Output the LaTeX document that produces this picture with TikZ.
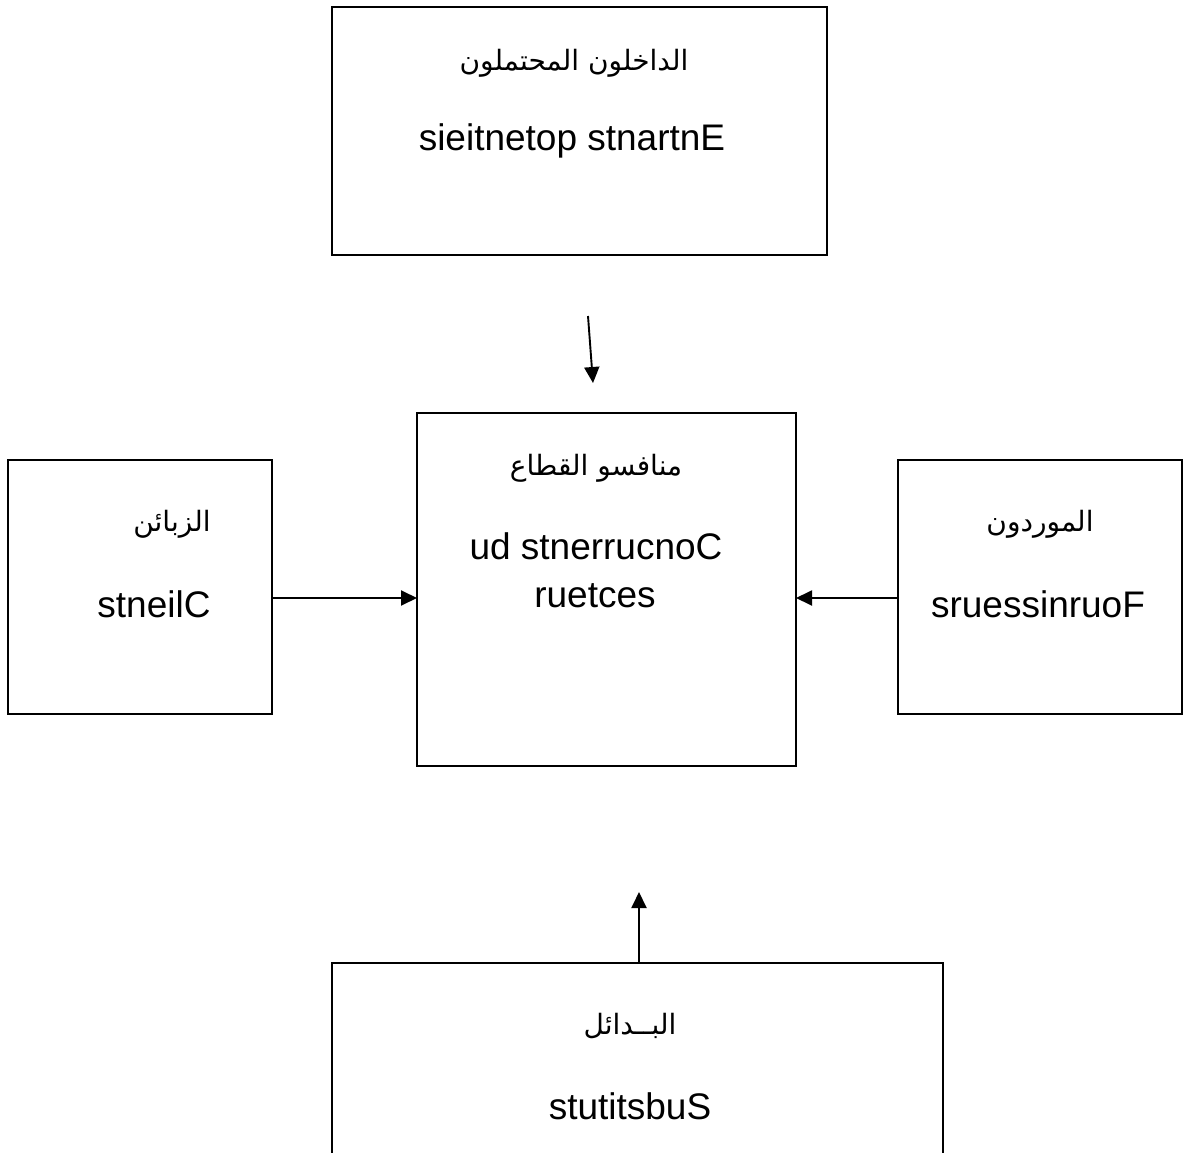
\documentclass[tikz,border=0pt]{standalone}
\usepackage{fontspec}
\setmainfont{Liberation Sans}
\newfontfamily\arabicfont[Script=Arabic]{DejaVu Sans}
\TeXXeTstate=1
\usetikzlibrary{arrows.meta}
\begin{document}
\begin{tikzpicture}[x=1pt,y=-1pt,
  box/.style={draw, line width=1.9pt, inner sep=0pt, outer sep=0pt},
  arr/.style={line width=1.9pt, -{Triangle[length=16pt,width=15pt]}},
  lat/.style={anchor=base, inner sep=0pt, font=\fontsize{37}{44}\selectfont},
  ara/.style={anchor=base, inner sep=0pt, font=\arabicfont\fontsize{28}{33}\selectfont}]
\clip (0,0) rectangle (1189,1153);
\useasboundingbox (0,0) rectangle (1189,1153);
\fill[white] (0,0) rectangle (1189,1153);

% the five forces boxes
\node[box, minimum width=495pt, minimum height=248pt] (entrants) at (579.5,131) {};
\node[box, minimum width=379pt, minimum height=353pt] (rivals) at (606.5,589.5) {};
\node[box, minimum width=264pt, minimum height=254pt] (clients) at (140,587) {};
\node[box, minimum width=284pt, minimum height=254pt] (suppliers) at (1040,587) {};
\node[box, minimum width=611pt, minimum height=260pt] (substitutes) at (637.5,1093) {};

% labels
\node[ara] (tEntrantsAr) at (574,71) {\beginR الداخلون المحتملون\endR};
\node[lat] (tEntrants) at (572,150) {sieitnetop stnartnE};
\node[ara] (tRivalsAr) at (596,475) {\beginR منافسو القطاع\endR};
\node[lat] (tRivals1) at (596,559) {ud stnerrucnoC};
\node[lat] (tRivals2) at (595,607) {ruetces};
\node[ara] (tClientsAr) at (172,531) {\beginR الزبائن\endR};
\node[lat] (tClients) at (154,617) {stneilC};
\node[ara] (tSuppliersAr) at (1040,531) {\beginR الموردون\endR};
\node[lat] (tSuppliers) at (1038,617) {sruessinruoF};
\node[ara] (tSubstAr) at (630,1034) {\beginR البــدائل\endR};
\node[lat] (tSubst) at (630,1119) {stutitsbuS};

% arrows
\coordinate (downTail) at (588,316);
\coordinate (downTip) at (593,383);
\coordinate (sideLevel) at (0,598);
\draw[arr] (downTail) -- (downTip);
\draw[arr] (clients.east |- sideLevel) -- (rivals.west |- sideLevel);
\draw[arr] (suppliers.west |- sideLevel) -- (rivals.east |- sideLevel);
\coordinate (upTip) at (639,892);
\draw[arr] (upTip |- substitutes.north) -- (upTip);
\end{tikzpicture}
\end{document}
